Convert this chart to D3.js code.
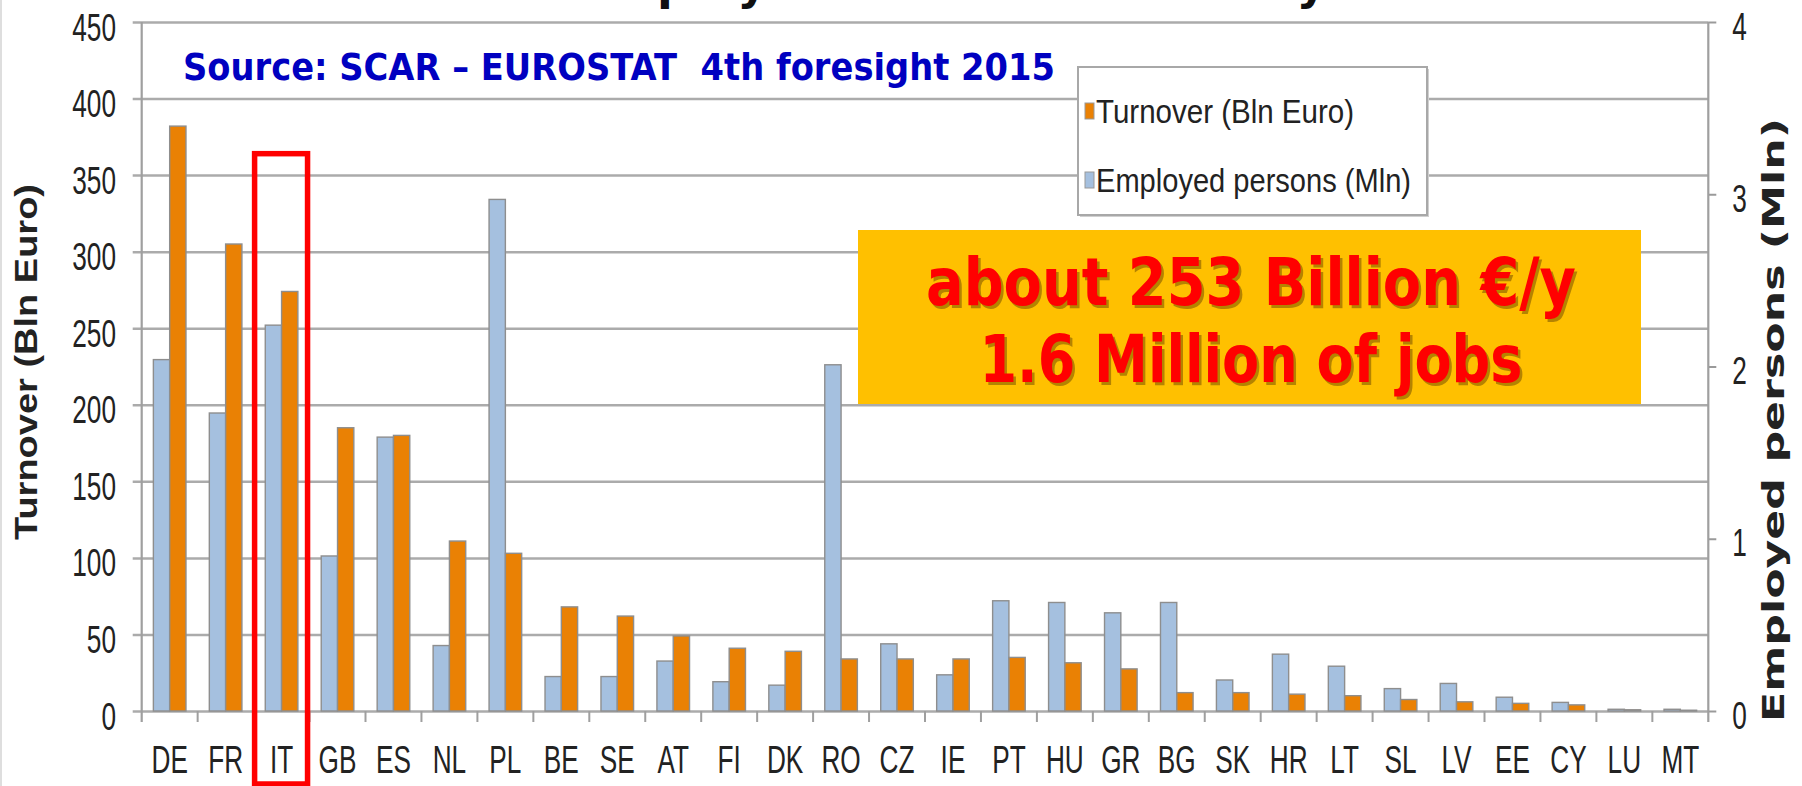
<!DOCTYPE html>
<html>
<head>
<meta charset="utf-8">
<script src="https://cdn.jsdelivr.net/npm/d3@7"></script>
<style>
  body { margin: 0; background: #fff; }
  svg { display: block; }
</style>
</head>
<body>
<svg id="chart" width="1802" height="786"></svg>
<script>
(function (d3) {
  'use strict';

  // data
  const countries = ['DE','FR','IT','GB','ES','NL','PL','BE','SE','AT','FI','DK','RO','CZ',
                     'IE','PT','HU','GR','BG','SK','HR','LT','SL','LV','EE','CY','LU','MT'];
  // Turnover (Bln Euro), left axis
  const turnover = [382,305,274,185,180,111,103,68,62,49,41,39,34,34,
                    34,35,31.5,27.5,12,12,11,10,7.5,6,5,4,0.8,0.5];
  // Employed persons (Mln), right axis
  const employed = [2.04,1.73,2.24,0.90,1.59,0.38,2.97,0.20,0.20,0.29,0.17,0.15,2.01,0.39,
                    0.21,0.64,0.63,0.57,0.63,0.18,0.33,0.26,0.13,0.16,0.08,0.05,0.01,0.01];
  const leftTicks = [0,50,100,150,200,250,300,350,400,450];
  const rightTicks = [0,1,2,3,4];
  const highlighted = 'IT';

  const titleText = 'Turnover and employed in the bioeconomy';
  const sourceText = 'Source: SCAR \u2013 EUROSTAT  4th foresight 2015';
  const calloutLines = ['about 253 Billion \u20ac/y', '1.6 Million of jobs'];
  const legendItems = [
    {key: 'turnover', label: 'Turnover (Bln Euro)'},
    {key: 'employed', label: 'Employed persons (Mln)'}
  ];

  const colors = {turnover: '#ea8104', employed: '#a5c0df'};

  const width = 1802, height = 786;
  const margin = {top: 22, right: 93.7, bottom: 75, left: 141.7};
  const innerwidth = width - margin.left - margin.right;
  const innerheight = height - margin.top - margin.bottom;
  const squeeze = 0.69;   // the picture is narrow, glyphs too
  const tickFont = '"Liberation Sans", Arial, sans-serif';
  const boldFont = '"DejaVu Sans", Verdana, sans-serif';

  const data = countries.map((c, i) => ({country: c, turnover: turnover[i], employed: employed[i]}));

  const svg = d3.select('svg#chart');
  svg.append('rect').attr('width', width).attr('height', height).attr('fill', '#fff');
  svg.append('line')
      .attr('x1', 1).attr('x2', 1).attr('y1', 0).attr('y2', height)
      .attr('stroke', '#dedede').attr('stroke-width', 2);

  // title, cut by the top edge as in the slide
  const title = svg.append('text')
      .attr('y', -1)
      .attr('font-family', boldFont).attr('font-weight', 'bold')
      .attr('font-size', 46).attr('fill', '#111')
      .text(titleText);
  const pOffset = title.node().getSubStringLength(0, titleText.indexOf('ployed'));
  title.attr('x', 657 - pOffset);

  const g = svg.append('g')
      .attr('transform', `translate(${margin.left},${margin.top})`);

  //scales
  const xScale = d3.scaleBand().domain(countries).range([0, innerwidth]);
  const xSeries = d3.scaleBand().domain(['employed', 'turnover'])
      .range([0, xScale.bandwidth()]).paddingOuter(0.716);
  const yLeft = d3.scaleLinear().domain([0, 450]).range([innerheight, 0]);
  const yRight = d3.scaleLinear().domain([0, 4]).range([innerheight, 0]);

  //left axis + gridlines
  const yAxisL = d3.axisLeft(yLeft)
      .tickValues(leftTicks)
      .tickSize(-innerwidth)
      .tickSizeOuter(0);
  const yAxisLG = g.append('g').attr('class', 'y-axis').call(yAxisL);
  yAxisLG.attr('font-family', tickFont).attr('font-size', 38);
  yAxisLG.select('.domain').remove();
  yAxisLG.selectAll('.tick line')
      .attr('x1', -9)
      .attr('stroke', '#ababab').attr('stroke-width', 2.5);
  yAxisLG.selectAll('.tick text')
      .attr('x', -25.7 / squeeze).attr('y', 18).attr('dy', 0)
      .attr('transform', `scale(${squeeze},1)`)
      .attr('fill', '#222');

  //right axis
  const yAxisR = d3.axisRight(yRight)
      .tickValues(rightTicks)
      .tickFormat(d3.format('d'))
      .tickSize(8)
      .tickSizeOuter(0);
  const yAxisRG = g.append('g').attr('class', 'y-axis-right')
      .attr('transform', `translate(${innerwidth},0)`)
      .call(yAxisR);
  yAxisRG.attr('font-family', tickFont).attr('font-size', 38);
  yAxisRG.select('.domain').remove();
  yAxisRG.selectAll('.tick line').attr('stroke', '#9a9a9a').attr('stroke-width', 2);
  yAxisRG.selectAll('.tick text')
      .attr('x', 24 / squeeze).attr('y', 17).attr('dy', 0)
      .attr('transform', `scale(${squeeze},1)`)
      .attr('fill', '#222');

  //vertical axis lines
  g.selectAll('.axis-line').data([0, innerwidth]).enter().append('line')
      .attr('class', 'axis-line')
      .attr('x1', d => d).attr('x2', d => d)
      .attr('y1', 0).attr('y2', innerheight + 11)
      .attr('stroke', '#9f9f9f').attr('stroke-width', 2.2);

  //category axis
  const xAxis = d3.axisBottom(xScale).tickSize(0).tickSizeOuter(0);
  const xAxisG = g.append('g').attr('class', 'x-axis')
      .attr('transform', `translate(0,${innerheight})`)
      .call(xAxis);
  xAxisG.attr('font-family', tickFont).attr('font-size', 38);
  xAxisG.select('.domain').remove();
  xAxisG.selectAll('.tick text')
      .attr('y', 62).attr('dy', 0)
      .attr('transform', `scale(${squeeze},1)`)
      .attr('fill', '#222');
  xAxisG.selectAll('.cat-tick').data(countries.slice(1)).enter().append('line')
      .attr('class', 'cat-tick')
      .attr('x1', d => xScale(d)).attr('x2', d => xScale(d))
      .attr('y1', 0).attr('y2', 11)
      .attr('stroke', '#9f9f9f').attr('stroke-width', 2);

  //bars
  const barG = g.selectAll('.bar-group').data(data).enter().append('g')
      .attr('class', 'bar-group')
      .attr('transform', d => `translate(${xScale(d.country)},0)`);
  barG.append('rect')
      .attr('x', xSeries('employed'))
      .attr('y', d => yRight(d.employed))
      .attr('width', xSeries.bandwidth())
      .attr('height', d => innerheight - yRight(d.employed))
      .attr('fill', colors.employed)
      .attr('stroke', '#8e8e8e').attr('stroke-width', 1.4);
  barG.append('rect')
      .attr('x', xSeries('turnover'))
      .attr('y', d => yLeft(d.turnover))
      .attr('width', xSeries.bandwidth())
      .attr('height', d => innerheight - yLeft(d.turnover))
      .attr('fill', colors.turnover)
      .attr('stroke', '#8e8e8e').attr('stroke-width', 1.4);

  //red frame round Italy
  const frameTop = yLeft(364);
  g.append('rect')
      .attr('x', xScale(highlighted) + 1)
      .attr('y', frameTop)
      .attr('width', xScale.bandwidth() - 3)
      .attr('height', height - 2 - margin.top - frameTop)
      .attr('fill', 'none')
      .attr('stroke', '#ff0000').attr('stroke-width', 5.5);

  //axis titles
  svg.append('text')
      .attr('transform', 'translate(37,362) rotate(-90)')
      .attr('text-anchor', 'middle')
      .attr('font-family', tickFont).attr('font-weight', 'bold').attr('font-size', 32)
      .attr('textLength', 356).attr('lengthAdjust', 'spacingAndGlyphs')
      .attr('fill', '#222')
      .text('Turnover (Bln Euro)');
  svg.append('text')
      .attr('transform', 'translate(1784,420) rotate(-90)')
      .attr('text-anchor', 'middle')
      .attr('font-family', boldFont).attr('font-weight', 'bold').attr('font-size', 31)
      .attr('textLength', 604).attr('lengthAdjust', 'spacingAndGlyphs')
      .attr('fill', '#222')
      .text('Employed persons (Mln)');

  //source note
  svg.append('text')
      .attr('x', 183).attr('y', 80)
      .attr('font-family', boldFont).attr('font-weight', 'bold').attr('font-size', 38)
      .attr('textLength', 872).attr('lengthAdjust', 'spacingAndGlyphs')
      .attr('fill', '#0000c0')
      .style('white-space', 'pre')
      .text(sourceText);

  //legend
  const legend = svg.append('g').attr('transform', 'translate(1078,67)');
  legend.append('rect')
      .attr('x', 2).attr('y', 2).attr('width', 349).attr('height', 148)
      .attr('fill', '#d0d0d0');
  legend.append('rect')
      .attr('width', 349).attr('height', 148)
      .attr('fill', '#fff').attr('stroke', '#a8a8a8').attr('stroke-width', 2);
  const legendRow = legend.selectAll('.legend-row').data(legendItems).enter().append('g')
      .attr('class', 'legend-row')
      .attr('transform', (d, i) => `translate(0,${36 + i * 69})`);
  legendRow.append('rect')
      .attr('x', 7).attr('width', 9).attr('height', 16)
      .attr('fill', d => colors[d.key])
      .attr('stroke', '#999').attr('stroke-width', 1);
  legendRow.append('text')
      .attr('x', 18).attr('y', 20)
      .attr('font-family', tickFont).attr('font-size', 33)
      .attr('textLength', (d, i) => i === 0 ? 258 : 315)
      .attr('lengthAdjust', 'spacingAndGlyphs')
      .attr('fill', '#222')
      .text(d => d.label);

  //yellow callout
  const callout = svg.append('g');
  callout.append('rect')
      .attr('x', 858).attr('y', 230).attr('width', 783).attr('height', 174)
      .attr('fill', '#ffc000');
  const lineSpec = [{y: 305, len: 650}, {y: 382, len: 543}];
  callout.selectAll('.shadow').data(calloutLines).enter().append('text')
      .attr('class', 'shadow')
      .attr('x', 1251 + 2.5).attr('y', (d, i) => lineSpec[i].y + 2.5)
      .attr('text-anchor', 'middle')
      .attr('font-family', boldFont).attr('font-weight', 'bold').attr('font-size', 65)
      .attr('textLength', (d, i) => lineSpec[i].len).attr('lengthAdjust', 'spacingAndGlyphs')
      .attr('fill', '#6b4700').attr('opacity', 0.5)
      .text(d => d);
  callout.selectAll('.callout-text').data(calloutLines).enter().append('text')
      .attr('class', 'callout-text')
      .attr('x', 1251).attr('y', (d, i) => lineSpec[i].y)
      .attr('text-anchor', 'middle')
      .attr('font-family', boldFont).attr('font-weight', 'bold').attr('font-size', 65)
      .attr('textLength', (d, i) => lineSpec[i].len).attr('lengthAdjust', 'spacingAndGlyphs')
      .attr('fill', '#ff0000')
      .text(d => d);

}(d3));
</script>
</body>
</html>
